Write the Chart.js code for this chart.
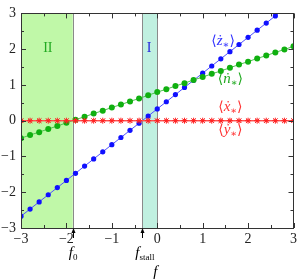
<!DOCTYPE html>
<html><head><meta charset="utf-8">
<script src="https://cdn.jsdelivr.net/npm/chart.js@4/dist/chart.umd.min.js"></script>
<style>html,body{margin:0;padding:0;background:#fff;}#wrap{width:300px;height:279px;}</style>
</head><body><div id="wrap"><canvas id="c" width="300" height="279"></canvas></div>
<script>
const forceF = [-3.0,-2.8,-2.6,-2.4,-2.2,-2.0,-1.8,-1.6,-1.4,-1.2,-1.0,-0.8,-0.6,-0.4,-0.2,0.0,0.2,0.4,0.6,0.8,1.0,1.2,1.4,1.6,1.8,2.0,2.2,2.4,2.6,2.8,3.0];
const zDot = [-2.67,-2.47,-2.27,-2.07,-1.87,-1.67,-1.47,-1.27,-1.07,-0.87,-0.67,-0.47,-0.27,-0.07,0.13,0.33,0.53,0.73,0.93,1.13,1.33,1.53,1.73,1.93,2.13,2.33,2.53,2.73,2.93,3.13,3.33];
const nDot = [-0.49,-0.40,-0.32,-0.23,-0.15,-0.06,0.03,0.11,0.20,0.28,0.37,0.45,0.54,0.62,0.71,0.80,0.88,0.97,1.05,1.14,1.22,1.31,1.39,1.48,1.57,1.65,1.74,1.82,1.91,1.99,2.08];
const xDot = [0,0,0,0,0,0,0,0,0,0,0,0,0,0,0,0,0,0,0,0,0,0,0,0,0,0,0,0,0,0,0];
const yDot = [0,0,0,0,0,0,0,0,0,0,0,0,0,0,0,0,0,0,0,0,0,0,0,0,0,0,0,0,0,0,0];
const f0 = -1.86;
const fStall = -0.33;
const xTicks = [-3,-2,-1,0,1,2,3];
const yTicks = [-3,-2,-1,0,1,2,3];

const SERIF = '"Liberation Serif","DejaVu Serif",serif';
const pts = arr => forceF.map((f,i)=>({x:f,y:arr[i]}));

function drawPieces(ctx, x, y, pieces, color, align){
  let w = 0;
  const ms = pieces.map(p=>{ctx.font=(p[2]?'italic ':'')+p[1]+'px '+SERIF; const m=ctx.measureText(p[0]).width; w+=m; return m;});
  let cx = align==='center' ? x - w/2 : x;
  ctx.fillStyle = color; ctx.textBaseline='alphabetic'; ctx.textAlign='left';
  pieces.forEach((p,i)=>{ctx.font=(p[2]?'italic ':'')+p[1]+'px '+SERIF; ctx.fillText(p[0], cx, y+(p[3]||0)); cx+=ms[i];});
}
function avg(ch){ return [['\u27E8',14,false,0],[ch,15,true,0],['\u2217',10,false,3],['\u27E9',14,false,0]]; }

const deco = {
  id:'deco',
  beforeDatasetsDraw(chart){
    const {ctx, chartArea:a, scales:{x,y}} = chart;
    ctx.save();
    const xf0 = x.getPixelForValue(f0), xs = x.getPixelForValue(fStall), x0 = x.getPixelForValue(0);
    ctx.fillStyle = '#c0f8a8';
    ctx.fillRect(a.left, a.top, xf0-a.left, a.bottom-a.top);
    ctx.fillStyle = '#c0f0e0';
    ctx.fillRect(xs, a.top, x0-xs, a.bottom-a.top);
    ctx.strokeStyle = '#8a8a8a'; ctx.lineWidth = 1;
    [xf0, xs, x0].forEach(px=>{ctx.beginPath(); ctx.moveTo(Math.round(px)+0.5,a.top); ctx.lineTo(Math.round(px)+0.5,a.bottom); ctx.stroke();});
    ctx.restore();
  },
  afterDatasetsDraw(chart){
    const {ctx, chartArea:a, scales:{x,y}} = chart;
    ctx.save();
    ctx.strokeStyle = '#333'; ctx.lineWidth = 1;
    ctx.strokeRect(Math.round(a.left)+0.5, Math.round(a.top)+0.5, Math.round(a.right-a.left)-1, Math.round(a.bottom-a.top));
    ctx.beginPath();
    for (let v=-3; v<=3.001; v+=0.5){
      const major = Math.abs(v-Math.round(v))<1e-6;
      const L = major?5:3;
      const px = Math.round(x.getPixelForValue(v))+0.5;
      ctx.moveTo(px,a.bottom); ctx.lineTo(px,a.bottom-L);
      ctx.moveTo(px,a.top); ctx.lineTo(px,a.top+L);
      const py = Math.round(y.getPixelForValue(v))+0.5;
      ctx.moveTo(a.left,py); ctx.lineTo(a.left+L,py);
      ctx.moveTo(a.right,py); ctx.lineTo(a.right-L,py);
    }
    ctx.stroke();
    drawPieces(ctx, x.getPixelForValue(-2.41), y.getPixelForValue(2.05)+5, [['II',14,false,0]], '#22aa22', 'center');
    drawPieces(ctx, x.getPixelForValue(-0.18), y.getPixelForValue(2.05)+5, [['I',14,false,0]], '#2222dd', 'center');
    drawPieces(ctx, x.getPixelForValue(1.45), y.getPixelForValue(2.13), avg('\u017C'), '#3333ff', 'center');
    drawPieces(ctx, x.getPixelForValue(1.61), y.getPixelForValue(1.05), avg('\u1E45'), '#22aa22', 'center');
    drawPieces(ctx, x.getPixelForValue(1.61), y.getPixelForValue(0.26), avg('\u1E8B'), '#ff3333', 'center');
    drawPieces(ctx, x.getPixelForValue(1.61), y.getPixelForValue(-0.37), avg('\u1E8F'), '#ff3333', 'center');
    ctx.strokeStyle='#000'; ctx.fillStyle='#000';
    [f0, fStall].forEach(v=>{
      const px = Math.round(x.getPixelForValue(v))+0.5;
      ctx.beginPath(); ctx.moveTo(px, a.bottom+10); ctx.lineTo(px, a.bottom+3); ctx.stroke();
      ctx.beginPath(); ctx.moveTo(px, a.bottom); ctx.lineTo(px-2, a.bottom+5); ctx.lineTo(px+2, a.bottom+5); ctx.closePath(); ctx.fill();
    });
    const pf0 = x.getPixelForValue(f0), ps = x.getPixelForValue(fStall);
    drawPieces(ctx, pf0-4, a.bottom+29, [['f',15,true,0],['0',9,false,3]], '#000', 'left');
    drawPieces(ctx, ps-7, a.bottom+29, [['f',15,true,0],['stall',9,false,3]], '#000', 'left');
    drawPieces(ctx, (a.left+a.right)/2-2, a.bottom+48, [['f',15,true,0]], '#000', 'center');
    ctx.restore();
  }
};

new Chart(document.getElementById('c'), {
  type:'line',
  data:{datasets:[
    {label:'x', data:pts(xDot), borderColor:'#ff5050', borderWidth:1.2, pointStyle:'star', pointRadius:3, pointBorderColor:'#ff2020', pointBackgroundColor:'#ffb0b0', pointBorderWidth:1},
    {label:'y', data:pts(yDot), borderColor:'#ff5050', borderWidth:1.2, pointStyle:'crossRot', pointRadius:3, pointBorderColor:'#ff2020', pointBorderWidth:1},
    {label:'n', data:pts(nDot), borderColor:'#50c050', borderWidth:1, pointRadius:3, pointBackgroundColor:'#10b010', pointBorderColor:'#10b010', pointBorderWidth:0},
    {label:'z', data:pts(zDot), borderColor:'#5050ff', borderWidth:1, pointRadius:2.6, pointBackgroundColor:'#1010ff', pointBorderColor:'#1010ff', pointBorderWidth:0}
  ]},
  options:{
    responsive:false, animation:false, devicePixelRatio:1,
    layout:{padding:{top:7,right:4,left:0,bottom:0}},
    plugins:{legend:{display:false}, tooltip:{enabled:false}},
    scales:{
      x:{type:'linear', min:-3, max:3, afterBuildTicks:s=>{s.ticks=xTicks.map(v=>({value:v}));},
         grid:{display:false, drawTicks:false}, border:{display:false},
         ticks:{padding:3, color:'#222', font:{family:SERIF, size:14}, maxRotation:0, callback:v=>String(v).replace('-','\u2212')},
         afterFit:s=>{s.height=51;}},
      y:{type:'linear', min:-3, max:3, afterBuildTicks:s=>{s.ticks=yTicks.map(v=>({value:v}));},
         grid:{display:false, drawTicks:false}, border:{display:false},
         ticks:{padding:5, color:'#222', font:{family:SERIF, size:14}, callback:v=>String(v).replace('-','\u2212')},
         afterFit:s=>{s.width=21;}}
    }
  },
  plugins:[deco]
});
</script></body></html>
